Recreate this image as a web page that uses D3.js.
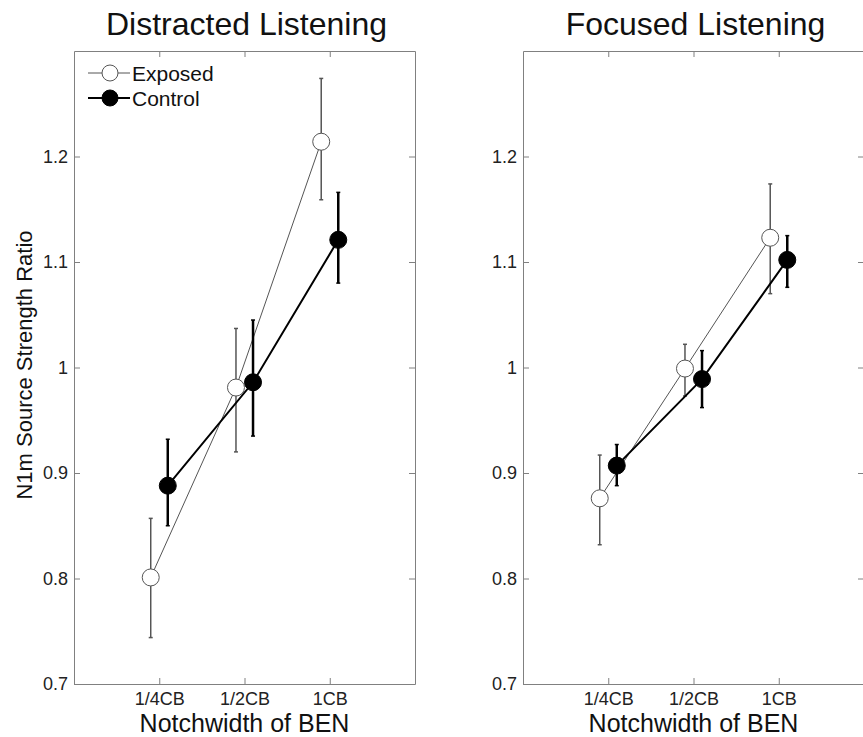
<!DOCTYPE html>
<html>
<head>
<meta charset="utf-8">
<script src="https://cdn.jsdelivr.net/npm/d3@7"></script>
<style>
  body { margin: 0; background: #fff; }
  svg { font-family: "Liberation Sans", Arial, sans-serif; }
</style>
</head>
<body>
<svg width="863" height="737"></svg>
<script>
// notch width categories
const categories = ["1/4CB", "1/2CB", "1CB"];
const yTicks = [0.7, 0.8, 0.9, 1.0, 1.1, 1.2];
const panelTitles = ["Distracted Listening", "Focused Listening"];

// distracted listening
const distractedExposed = [0.801, 0.981, 1.214];
const distractedExposedLo = [0.744, 0.920, 1.159];
const distractedExposedHi = [0.857, 1.037, 1.274];
const distractedControl = [0.888, 0.986, 1.121];
const distractedControlLo = [0.850, 0.935, 1.080];
const distractedControlHi = [0.932, 1.045, 1.166];

// focused listening
const focusedExposed = [0.876, 0.999, 1.123];
const focusedExposedLo = [0.832, 0.973, 1.070];
const focusedExposedHi = [0.917, 1.022, 1.174];
const focusedControl = [0.907, 0.989, 1.102];
const focusedControlLo = [0.888, 0.962, 1.076];
const focusedControlHi = [0.927, 1.016, 1.125];

const svg = d3.select("svg");
const plotTop = 51, plotBottom = 684, pw = 341;
const panelLeft = [74, 523];

const y = d3.scaleLinear().domain([0.7, 1.3]).range([plotBottom, plotTop]);

function series(vals, lo, hi) {
  return vals.map((v, i) => ({ i, v, lo: lo[i], hi: hi[i] }));
}

const panels = [
  { title: panelTitles[0],
    exposed: series(distractedExposed, distractedExposedLo, distractedExposedHi),
    control: series(distractedControl, distractedControlLo, distractedControlHi) },
  { title: panelTitles[1],
    exposed: series(focusedExposed, focusedExposedLo, focusedExposedHi),
    control: series(focusedControl, focusedControlLo, focusedControlHi) }
];

panels.forEach((p, k) => {
  const x0 = panelLeft[k];
  const x = d3.scaleLinear().domain([0, 4]).range([x0, x0 + pw]);
  const g = svg.append("g");
  const axisColor = "#808080";

  // box axes with inward ticks
  const axes = [
    [d3.axisBottom(x).tickValues([1, 2, 3]).tickFormat((d) => categories[d - 1]), plotBottom, true],
    [d3.axisTop(x).tickValues([1, 2, 3]).tickFormat(""), plotTop, false]
  ];
  axes.forEach(([ax, ty, labels]) => {
    const a = g.append("g").attr("transform", `translate(0,${ty})`)
      .call(ax.tickSizeInner(-6).tickSizeOuter(0).tickPadding(labels ? 8 : 0));
    a.select(".domain").attr("stroke", axisColor);
    a.selectAll(".tick line").attr("stroke", axisColor);
    a.selectAll("text").attr("font-size", 18).attr("fill", "#222");
  });
  const ayL = g.append("g").attr("transform", `translate(${x0},0)`)
    .call(d3.axisLeft(y).tickValues(yTicks).tickFormat(d3.format("~g")).tickSizeInner(-6).tickSizeOuter(0).tickPadding(6));
  ayL.select(".domain").attr("stroke", axisColor);
  ayL.selectAll(".tick line").attr("stroke", axisColor);
  ayL.selectAll("text").attr("font-size", 18).attr("fill", "#222");
  const ayR = g.append("g").attr("transform", `translate(${x0 + pw},0)`)
    .call(d3.axisRight(y).tickValues(yTicks).tickFormat("").tickSizeInner(-6).tickSizeOuter(0));
  ayR.select(".domain").attr("stroke", axisColor);
  ayR.selectAll(".tick line").attr("stroke", axisColor);

  // titles
  g.append("text").attr("x", x0 + pw / 2 + 2).attr("y", 35).attr("text-anchor", "middle")
    .attr("font-size", 32).attr("fill", "#111").text(p.title);
  g.append("text").attr("x", x0 + pw / 2).attr("y", 732).attr("text-anchor", "middle")
    .attr("font-size", 25).attr("fill", "#111").text("Notchwidth of BEN");

  const styles = [
    { data: p.exposed, off: -0.1, stroke: "#555", width: 1, fill: "#fff" },
    { data: p.control, off: 0.1, stroke: "#000", width: 2, fill: "#000" }
  ];
  styles.forEach((s) => {
    const px = (d) => x(d.i + 1 + s.off);
    g.append("path").datum(s.data)
      .attr("d", d3.line().x(px).y((d) => y(d.v)))
      .attr("fill", "none").attr("stroke", s.stroke).attr("stroke-width", s.width);
    const eb = g.append("g").selectAll("g").data(s.data).join("g");
    eb.append("line").attr("x1", px).attr("x2", px)
      .attr("y1", (d) => y(d.lo)).attr("y2", (d) => y(d.hi))
      .attr("stroke", s.stroke).attr("stroke-width", s.width + 0.5);
    ["lo", "hi"].forEach((key) => {
      eb.append("line").attr("x1", (d) => px(d) - 2).attr("x2", (d) => px(d) + 2)
        .attr("y1", (d) => y(d[key])).attr("y2", (d) => y(d[key]))
        .attr("stroke", s.stroke).attr("stroke-width", 1.5);
    });
    g.append("g").selectAll("circle").data(s.data).join("circle")
      .attr("cx", px).attr("cy", (d) => y(d.v)).attr("r", 8.5)
      .attr("fill", s.fill).attr("stroke", s.stroke).attr("stroke-width", 1);
  });

  if (k === 0) {
    const leg = [
      { label: "Exposed", stroke: "#555", width: 1, fill: "#fff", ly: 73 },
      { label: "Control", stroke: "#000", width: 2, fill: "#000", ly: 98 }
    ];
    leg.forEach((l) => {
      g.append("line").attr("x1", x0 + 14).attr("x2", x0 + 56).attr("y1", l.ly).attr("y2", l.ly)
        .attr("stroke", l.stroke).attr("stroke-width", l.width);
      g.append("circle").attr("cx", x0 + 36).attr("cy", l.ly).attr("r", 8)
        .attr("fill", l.fill).attr("stroke", l.stroke);
      g.append("text").attr("x", x0 + 58).attr("y", l.ly + 7.5).attr("font-size", 21)
        .attr("fill", "#111").text(l.label);
    });
  }
});

// y-axis label
svg.append("text").attr("transform", "translate(32,365) rotate(-90)")
  .attr("text-anchor", "middle").attr("font-size", 22).attr("fill", "#111")
  .text("N1m Source Strength Ratio");
</script>
</body>
</html>
